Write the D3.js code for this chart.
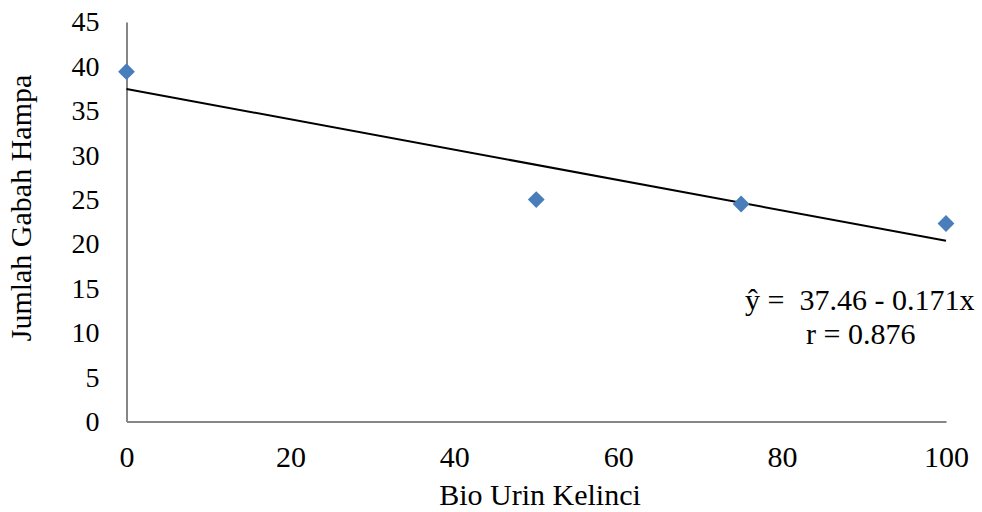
<!DOCTYPE html>
<html>
<head>
<meta charset="utf-8">
<script src="https://cdn.jsdelivr.net/npm/d3@7"></script>
<style>
  body { margin: 0; background: #fff; }
  text { font-family: "Liberation Serif", "Times New Roman", serif; fill: #000; }
</style>
</head>
<body>
<div id="chart"></div>
<script>
// data
var dosis = [0, 50, 75, 100]
var gabahHampa = [39.4, 25.0, 24.5, 22.3]
var xTicks = [0, 20, 40, 60, 80, 100]
var yTicks = [0, 5, 10, 15, 20, 25, 30, 35, 40, 45]
var intercept = 37.46
var slope = -0.171

var w = 982
var h = 512

var svg = d3.select("#chart")
    .append("svg")
    .attr("width", w)
    .attr("height", h)

var x = d3.scaleLinear().domain([0, 100]).range([126.5, 946])
var y = d3.scaleLinear().domain([0, 45]).range([421.5, 22])

// axes (no tick marks, grey lines)
var xAxis = svg.append("g")
    .attr("transform", "translate(0," + y(0) + ")")
    .call(d3.axisBottom(x).tickValues(xTicks).tickSize(0).tickPadding(24))
xAxis.select(".domain").attr("stroke", "#868686").attr("stroke-width", 2)
xAxis.selectAll("text").attr("font-size", 30).attr("dy", "0.71em")

var yAxis = svg.append("g")
    .attr("transform", "translate(" + x(0) + ",0)")
    .call(d3.axisLeft(y).tickValues(yTicks).tickSize(0).tickPadding(27))
yAxis.select(".domain").attr("stroke", "#868686").attr("stroke-width", 2)
yAxis.selectAll("text").attr("font-size", 28)

// trend line
svg.append("line")
    .attr("x1", x(0))
    .attr("y1", y(intercept))
    .attr("x2", x(100))
    .attr("y2", y(intercept + slope * 100))
    .attr("stroke", "black")
    .attr("stroke-width", 2)

// diamond markers
svg.selectAll(".pt")
    .data(dosis)
    .enter()
    .append("path")
    .attr("class", "pt")
    .attr("d", d3.symbol().type(d3.symbolDiamond2).size(180))
    .attr("transform", function(d, i){
        return "translate(" + x(d) + "," + y(gabahHampa[i]) + ")"
    })
    .attr("fill", "#4a7ebb")

// axis titles
svg.append("text")
    .attr("x", 540)
    .attr("y", 505)
    .attr("text-anchor", "middle")
    .attr("font-size", 30)
    .text("Bio Urin Kelinci")

svg.append("text")
    .attr("transform", "translate(31,208) rotate(-90)")
    .attr("text-anchor", "middle")
    .attr("font-size", 30)
    .text("Jumlah Gabah Hampa")

// equation
svg.append("text")
    .attr("x", 745)
    .attr("y", 310)
    .attr("font-size", 30)
    .style("white-space", "pre")
    .text("ŷ =  37.46 - 0.171x")

svg.append("text")
    .attr("x", 806)
    .attr("y", 344)
    .attr("font-size", 30)
    .text("r = 0.876")
</script>
</body>
</html>
